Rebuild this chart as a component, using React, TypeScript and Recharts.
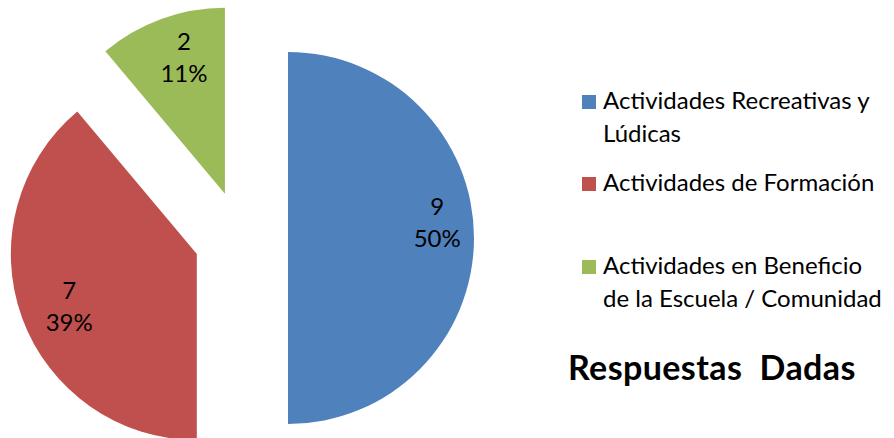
import { PieChart, Pie, Cell } from 'recharts'

const categories = ['Actividades Recreativas y Lúdicas', 'Actividades de Formación', 'Actividades en Beneficio de la Escuela / Comunidad']
const legendLines = [['Actividades Recreativas y', 'Lúdicas'], ['Actividades de Formación'], ['Actividades en Beneficio', 'de la Escuela / Comunidad']]
const counts = [9, 7, 2]
const COLORS = ['#4F81BD', '#C0504D', '#9BBB59']
const title = 'Respuestas  Dadas'

const data = categories.map((name, i) => ({ name, value: counts[i] }))
const total = counts.reduce((a, b) => a + b, 0)

const CX = 241
const CY = 238
const R = 186
const EXPLODE = 47
const RAD = Math.PI / 180
const FONT = 'Lato, "Open Sans", sans-serif'
// small hand nudges so the value labels sit where Excel's best-fit put them
const LABEL_NUDGE = [{ dx: 6, dy: 0 }, { dx: 7, dy: 19 }, { dx: 8, dy: 14 }]

// each slice is pushed out along its own mid angle (clockwise from 12 o'clock)
const offsets = counts.map((v, i) => {
  const before = counts.slice(0, i).reduce((a, b) => a + b, 0)
  const mid = 90 - (360 * (before + v / 2)) / total
  return { dx: EXPLODE * Math.cos(mid * RAD), dy: -EXPLODE * Math.sin(mid * RAD) }
})

function makeLabel(idx: number) {
  return (p: any) => {
    if (p.index !== idx) return null
    const r = p.outerRadius * 0.77
    const x = p.cx + r * Math.cos(-p.midAngle * RAD) + LABEL_NUDGE[idx].dx
    const y = p.cy + r * Math.sin(-p.midAngle * RAD) + LABEL_NUDGE[idx].dy
    return (
      <text x={x} y={y} textAnchor="middle" fill="#000" fontFamily={FONT} fontSize={24}>
        <tspan x={x} dy={-23}>{p.value}</tspan>
        <tspan x={x} dy={32}>{Math.round(p.percent * 100)}%</tspan>
      </text>
    )
  }
}

function LegendBox() {
  const baselines = [109, 191, 274]
  return (
    <div style={{ position: 'absolute', left: 0, top: 0, width: 894, height: 438, pointerEvents: 'none' }}>
      {legendLines.map((lines, i) => (
        <div key={i}>
          <div style={{ position: 'absolute', left: 582, top: baselines[i] - 14, width: 14, height: 14, background: COLORS[i] }} />
          {lines.map((t, j) => (
            <div key={j} style={{ position: 'absolute', left: 603, top: baselines[i] - 23 + j * 33, fontFamily: FONT, fontSize: 24, lineHeight: '28px', color: '#000', whiteSpace: 'nowrap' }}>{t}</div>
          ))}
        </div>
      ))}
      <div style={{ position: 'absolute', left: 568, top: 347, fontFamily: FONT, fontSize: 34, fontWeight: 700, letterSpacing: 0.4, lineHeight: '40px', color: '#000', whiteSpace: 'pre' }}>
        {title}
      </div>
    </div>
  )
}

export default function App() {
  return (
    <div style={{ position: 'absolute', left: 0, top: 0, width: 894, height: 438, background: '#fff', overflow: 'hidden' }}>
      <PieChart width={894} height={438} margin={{ top: 0, right: 0, bottom: 0, left: 0 }}>
        {counts.map((_, i) => (
          <Pie
            key={i}
            data={data}
            dataKey="value"
            nameKey="name"
            cx={CX + offsets[i].dx}
            cy={CY + offsets[i].dy}
            outerRadius={R}
            startAngle={90}
            endAngle={-270}
            stroke="none"
            labelLine={false}
            label={makeLabel(i)}
            isAnimationActive={false}
          >
            {data.map((_, j) => (
              <Cell key={j} fill={j === i ? COLORS[i] : 'transparent'} stroke="none" />
            ))}
          </Pie>
        ))}
      </PieChart>
      <LegendBox />
    </div>
  )
}
